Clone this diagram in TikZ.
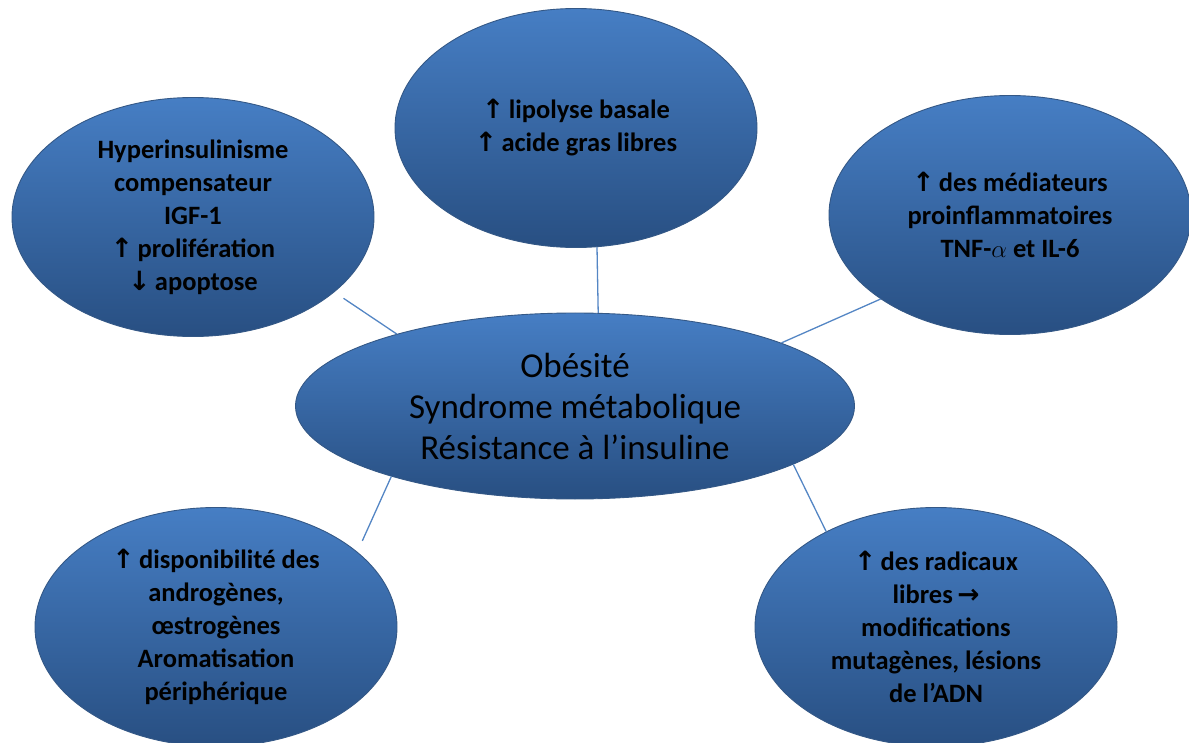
\documentclass[tikz,border=0pt]{standalone}
\usepackage{fontspec}
\setmainfont{Carlito}
\newfontfamily\fleche{DejaVu Sans}
\usetikzlibrary{shapes.geometric}

\definecolor{bulletop}{RGB}{70,126,196}
\definecolor{bullebas}{RGB}{40,79,130}
\definecolor{bullebord}{RGB}{52,88,134}
\definecolor{lienbleu}{RGB}{84,134,196}

\newcommand{\haut}{{\fleche\bfseries ↑}\,}
\newcommand{\bas}{{\fleche\bfseries ↓}\,}
\newcommand{\vers}{\,{\fleche\bfseries →}}

\begin{document}
\begin{tikzpicture}[x=1pt, y=-1pt,
  bulle/.style={ellipse, draw=bullebord, line width=0.9pt,
    top color=bulletop, bottom color=bullebas,
    minimum width=362pt, minimum height=239pt, inner sep=0pt,
    align=center, font=\fontsize{26.5}{33}\selectfont\bfseries},
  centre/.style={bulle, minimum width=559pt, minimum height=186pt,
    font=\fontsize{35}{41}\selectfont},
  lien/.style={draw=lienbleu, line width=1.3pt}]
\useasboundingbox (0,0) rectangle (1189,743);

\node[centre] (obes) at (575,406) {Obésité\\Syndrome métabolique\\Résistance à l’insuline};

\node[bulle] (hyper) at (193,217) {Hyperinsulinisme\\compensateur\\IGF-1\\\haut prolifération\\\bas apoptose};
\node[bulle] (lipo) at (576,128) {\haut lipolyse basale\\\haut acide gras libres};
\node[bulle] (media) at (1010,215) {\haut des médiateurs\\proinflammatoires\\TNF-$\alpha$ et IL-6};
\node[bulle] (andro) at (216,627) {\haut disponibilité des\\androgènes,\\œstrogènes\\Aromatisation\\périphérique};
\node[bulle] (radic) at (936,627) {\haut des radicaux\\libres\vers\\modifications\\mutagènes, lésions\\de l’ADN};

% Draw the links to the centre.
\draw[lien, shorten >=11pt] (obes.158) -- (hyper.-28);
\draw[lien] (obes.76.8) -- (lipo.-80);
\draw[lien] (obes.17.5) -- (media.213.6);
\draw[lien, shorten >=12pt] (obes.201.8) -- (andro.28);
\draw[lien] (obes.-15.6) -- (radic.139);

\end{tikzpicture}
\end{document}
